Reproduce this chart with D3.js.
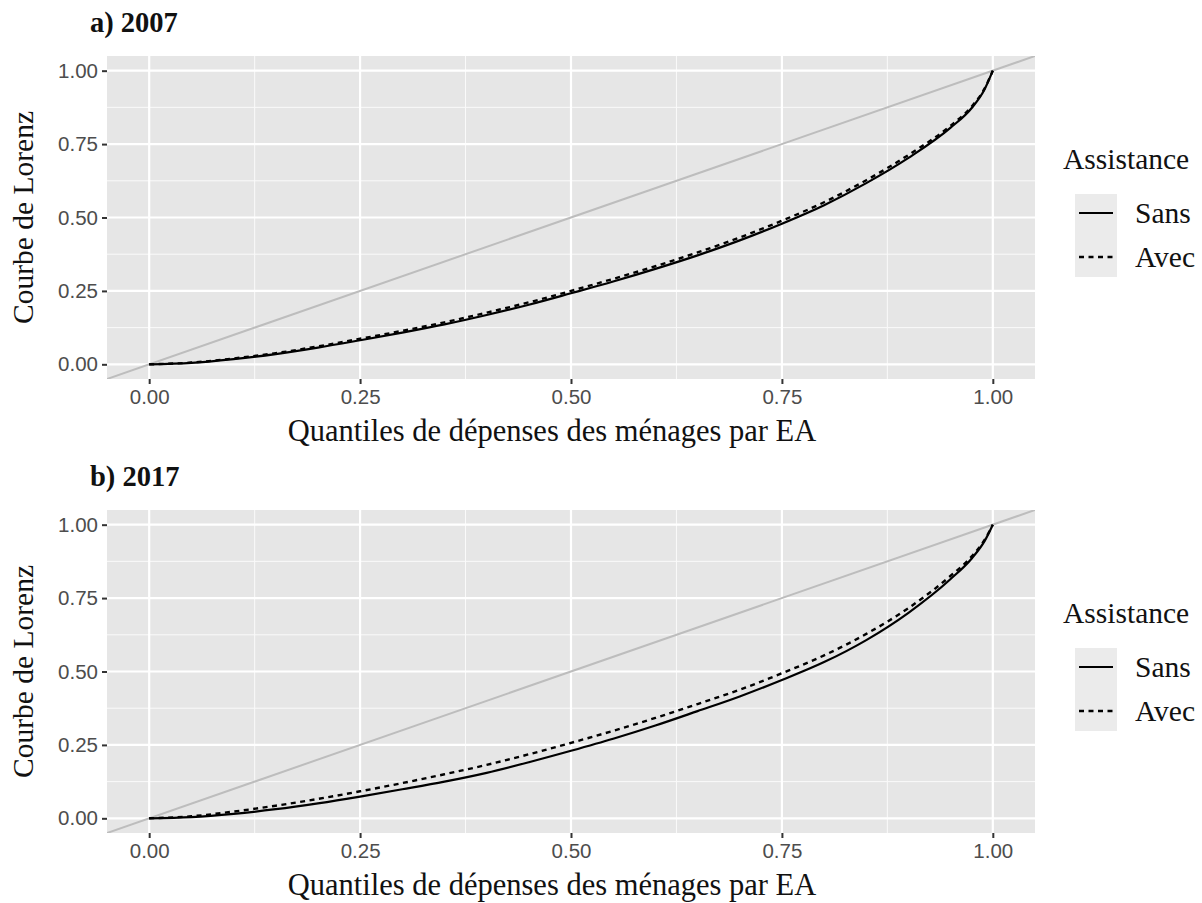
<!DOCTYPE html>
<html>
<head>
<meta charset="utf-8">
<script src="https://cdn.jsdelivr.net/npm/d3@7"></script>
<style>
  html, body { margin: 0; padding: 0; background: #ffffff; }
  svg { display: block; }
</style>
</head>
<body>
<svg id="chart" width="1202" height="903"></svg>
<script>
// Population quantiles shared by every curve
const quantiles = [0, 0.05, 0.1, 0.15, 0.2, 0.25, 0.3, 0.35, 0.4, 0.45, 0.5,
  0.55, 0.6, 0.65, 0.7, 0.75, 0.8, 0.85, 0.9, 0.95, 0.975, 0.99, 1];

// Cumulative expenditure shares, 2007
const sans2007 = [0, 0.005, 0.018, 0.035, 0.057, 0.082, 0.108, 0.136, 0.168, 0.203, 0.242,
  0.282, 0.325, 0.371, 0.422, 0.479, 0.542, 0.617, 0.703, 0.806, 0.873, 0.935, 1];
const avec2007 = [0, 0.006, 0.020, 0.038, 0.061, 0.087, 0.114, 0.143, 0.176, 0.211, 0.250,
  0.291, 0.334, 0.381, 0.432, 0.489, 0.552, 0.627, 0.713, 0.813, 0.878, 0.938, 1];

// Cumulative expenditure shares, 2017
const sans2017 = [0, 0.004, 0.015, 0.031, 0.051, 0.074, 0.099, 0.125, 0.155, 0.191, 0.230,
  0.271, 0.316, 0.365, 0.415, 0.471, 0.532, 0.607, 0.700, 0.815, 0.885, 0.943, 1];
const avec2017 = [0, 0.007, 0.023, 0.043, 0.066, 0.092, 0.120, 0.150, 0.182, 0.218, 0.257,
  0.298, 0.342, 0.389, 0.438, 0.494, 0.555, 0.628, 0.716, 0.826, 0.892, 0.947, 1];

const tickValues = [0, 0.25, 0.5, 0.75, 1];
const minorValues = [0.125, 0.375, 0.625, 0.875];
const panelTitles = ["a) 2007", "b) 2017"];
const seriesNames = ["Sans", "Avec"];
const legendTitle = "Assistance";
const xTitle = "Quantiles de dépenses des ménages par EA";
const yTitle = "Courbe de Lorenz";

const svg = d3.select("#chart");
const serif = "'Liberation Serif', 'Times New Roman', serif";
const sans = "'Liberation Sans', Arial, sans-serif";

const panelBg = "#e6e6e6";
const fmt = d3.format(".2f");

function drawPanel(top, title, sansVals, avecVals, idx) {
  const left = 107, right = 1035, panelH = 323;
  const x = d3.scaleLinear().domain([-0.05, 1.05]).range([left, right]);
  const y = d3.scaleLinear().domain([-0.05, 1.05]).range([top + panelH, top]);

  const g = svg.append("g");

  // panel title
  g.append("text")
    .attr("x", 90).attr("y", top - 24)
    .attr("font-family", serif).attr("font-weight", "bold")
    .attr("font-size", 28.5).attr("fill", "#111")
    .text(title);

  // panel background
  g.append("rect")
    .attr("x", left).attr("y", top)
    .attr("width", right - left).attr("height", panelH)
    .attr("fill", panelBg);

  // minor grid
  g.selectAll(".vminor").data(minorValues).join("line")
    .attr("x1", d => x(d)).attr("x2", d => x(d))
    .attr("y1", top).attr("y2", top + panelH)
    .attr("stroke", "#fafafa").attr("stroke-width", 1);
  g.selectAll(".hminor").data(minorValues).join("line")
    .attr("y1", d => y(d)).attr("y2", d => y(d))
    .attr("x1", left).attr("x2", right)
    .attr("stroke", "#fafafa").attr("stroke-width", 1);

  // major grid
  g.selectAll(".vmajor").data(tickValues).join("line")
    .attr("x1", d => x(d)).attr("x2", d => x(d))
    .attr("y1", top).attr("y2", top + panelH)
    .attr("stroke", "#ffffff").attr("stroke-width", 2.2);
  g.selectAll(".hmajor").data(tickValues).join("line")
    .attr("y1", d => y(d)).attr("y2", d => y(d))
    .attr("x1", left).attr("x2", right)
    .attr("stroke", "#ffffff").attr("stroke-width", 2.2);

  // clip for marks
  const clipId = "clip" + idx;
  svg.append("clipPath").attr("id", clipId)
    .append("rect").attr("x", left).attr("y", top)
    .attr("width", right - left).attr("height", panelH);

  const marks = g.append("g").attr("clip-path", `url(#${clipId})`);

  // line of perfect equality
  marks.append("line")
    .attr("x1", x(-0.05)).attr("y1", y(-0.05))
    .attr("x2", x(1.05)).attr("y2", y(1.05))
    .attr("stroke", "#bdbdbd").attr("stroke-width", 2);

  const line = d3.line()
    .x((d, i) => x(quantiles[i]))
    .y(d => y(d))
    .curve(d3.curveMonotoneX);

  marks.append("path").datum(sansVals)
    .attr("d", line).attr("fill", "none")
    .attr("stroke", "#000").attr("stroke-width", 2.2);
  marks.append("path").datum(avecVals)
    .attr("d", line).attr("fill", "none")
    .attr("stroke", "#000").attr("stroke-width", 2.4)
    .attr("stroke-dasharray", "5,4.5");

  // axes
  const xAxis = d3.axisBottom(x).tickValues(tickValues).tickFormat(fmt)
    .tickSize(5).tickPadding(5);
  const yAxis = d3.axisLeft(y).tickValues(tickValues).tickFormat(fmt)
    .tickSize(5).tickPadding(4);

  const gx = g.append("g").attr("transform", `translate(0,${top + panelH})`).call(xAxis);
  const gy = g.append("g").attr("transform", `translate(${left},0)`).call(yAxis);
  [gx, gy].forEach(a => {
    a.select(".domain").remove();
    a.selectAll(".tick line").attr("stroke", "#333").attr("stroke-width", 2);
    a.selectAll(".tick text").attr("fill", "#4d4d4d")
      .attr("font-family", sans).attr("font-size", 20.5);
  });

  // axis titles
  g.append("text")
    .attr("x", 552).attr("y", top + panelH + 62)
    .attr("text-anchor", "middle")
    .attr("font-family", serif).attr("font-size", 30.5).attr("fill", "#111")
    .text(xTitle);
  g.append("text")
    .attr("transform", `translate(33,${top + panelH / 2}) rotate(-90)`)
    .attr("text-anchor", "middle")
    .attr("font-family", serif).attr("font-size", 29.5).attr("fill", "#111")
    .text(yTitle);

  // legend
  const lg = g.append("g");
  lg.append("text")
    .attr("x", 1063).attr("y", top + 113)
    .attr("font-family", serif).attr("font-size", 29.5).attr("fill", "#111")
    .text(legendTitle);
  lg.append("rect")
    .attr("x", 1075).attr("y", top + 138)
    .attr("width", 42).attr("height", 83)
    .attr("fill", "#ebebeb");
  seriesNames.forEach((name, i) => {
    const cy = top + 157 + i * 44;
    lg.append("line")
      .attr("x1", 1079).attr("x2", 1113)
      .attr("y1", cy).attr("y2", cy)
      .attr("stroke", "#000").attr("stroke-width", i === 0 ? 2.2 : 2.4)
      .attr("stroke-dasharray", i === 0 ? null : "5,4.5");
    lg.append("text")
      .attr("x", 1135).attr("y", cy + 10)
      .attr("font-family", serif).attr("font-size", 29.5).attr("fill", "#111")
      .text(name);
  });
}

drawPanel(56, panelTitles[0], sans2007, avec2007, 0);
drawPanel(510, panelTitles[1], sans2017, avec2017, 1);
</script>
</body>
</html>
